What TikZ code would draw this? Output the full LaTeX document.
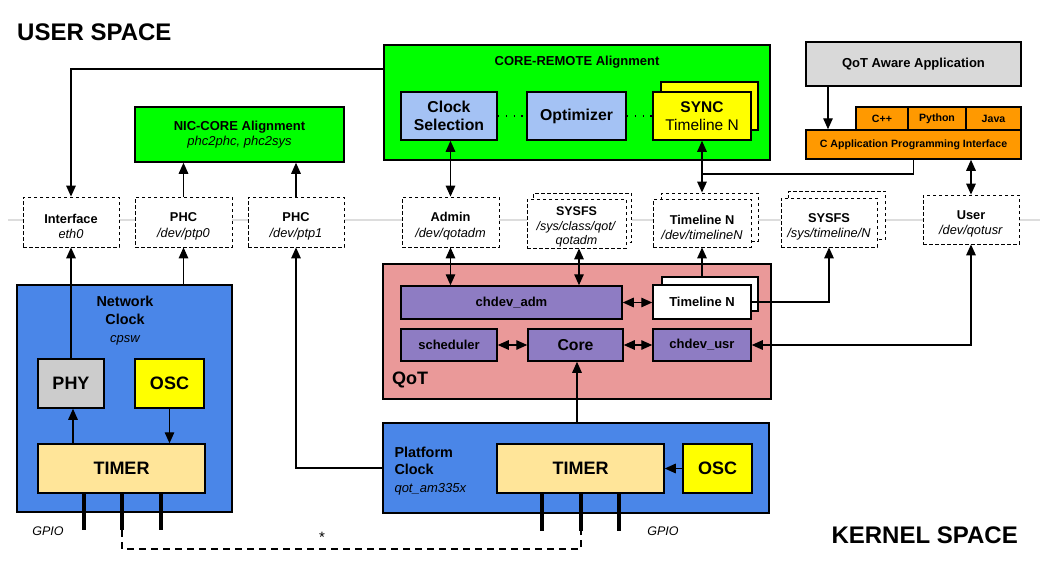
\documentclass[tikz,border=0pt]{standalone}
\usepackage{fontspec}
\setmainfont{Liberation Sans}
\usetikzlibrary{arrows.meta}
\definecolor{cgreen}{HTML}{00FF00}
\definecolor{clblue}{HTML}{A4C2F4}
\definecolor{cyell}{HTML}{FFFF00}
\definecolor{cpink}{HTML}{EA9999}
\definecolor{cpurp}{HTML}{8E7CC3}
\definecolor{cblue}{HTML}{4A86E8}
\definecolor{cgrayA}{HTML}{D9D9D9}
\definecolor{cgrayB}{HTML}{CCCCCC}
\definecolor{corange}{HTML}{FF9900}
\definecolor{ctimer}{HTML}{FFE599}
\definecolor{cline}{HTML}{DDDDDD}
\newcommand\dstrut{\rule{0pt}{18pt}}
\begin{document}
\begin{tikzpicture}[x=1pt,y=-1pt,
  box/.style={draw=black, line width=1.5pt, inner sep=0pt, align=center, font=\fontsize{13}{15.5}\selectfont\bfseries},
  dbox/.style={draw=black, fill=white, line width=0.8pt, dash pattern=on 3.5pt off 2.5pt, inner sep=0pt, align=center, font=\fontsize{12.8}{15.5}\selectfont},
  conn/.style={line width=1.4pt},
  arr/.style={conn, -{Triangle[length=11pt,width=9.5pt]}},
  darr/.style={conn, {Triangle[length=11pt,width=9.5pt]}-{Triangle[length=11pt,width=9.5pt]}},
  pin/.style={line width=3.5pt},
  big/.style={font=\fontsize{18}{20}\selectfont\bfseries},
  mid/.style={font=\fontsize{15.8}{18}\selectfont\bfseries},
  small/.style={font=\fontsize{10.6}{12}\selectfont\bfseries},
  ital/.style={font=\fontsize{12.5}{15}\selectfont\itshape},
  dotline/.style={line width=1.4pt, dash pattern=on 1.4pt off 6.5pt}
]
\useasboundingbox (0,0) rectangle (1047,565);
\fill[white] (0,0) rectangle (1047,565);

% separator line
\draw[cline, line width=1.8pt] (8,220) -- (1040,220);

% titles
\node[anchor=west, font=\fontsize{24}{26}\selectfont\bfseries, inner sep=0pt] (us) at (17,32) {USER SPACE};
\node[anchor=east, font=\fontsize{24}{26}\selectfont\bfseries, inner sep=0pt] (ks) at (1018,535) {KERNEL SPACE};

% CORE-REMOTE alignment
\node[box, fill=cgreen, minimum width=386pt, minimum height=115pt] (coreremote) at (577,102.5) {};
\node[font=\fontsize{13}{15}\selectfont\bfseries] (crtitle) at (577,62) {CORE-REMOTE Alignment};
\node[box, fill=clblue, minimum width=96pt, minimum height=48pt, mid] (clocksel) at (449,116) {Clock\\Selection};
\node[box, fill=clblue, minimum width=99pt, minimum height=48pt, mid] (optim) at (576.5,116) {Optimizer};
\node[box, fill=cyell, minimum width=97pt, minimum height=48pt] (syncb) at (709.5,106) {};
\node[box, fill=cyell, minimum width=98pt, minimum height=48pt, font=\fontsize{15.5}{18}\selectfont] (sync) at (702,116) {\textbf{SYNC}\\Timeline N};
\draw[dotline] (clocksel.east) -- (optim.west);
\draw[dotline] (optim.east) -- (sync.west);

% NIC-CORE
\node[box, fill=cgreen, minimum width=209pt, minimum height=55pt] (nic) at (239.5,134.5) {NIC-CORE Alignment\\{\mdseries\itshape phc2phc, phc2sys}};

% QoT aware application + API
\node[box, fill=cgrayA, minimum width=215pt, minimum height=44pt] (app) at (913.5,64) {QoT Aware Application};
\node[box, fill=corange, minimum width=52pt, minimum height=23pt, small] (cpp) at (882,118.5) {C++};
\node[box, fill=corange, minimum width=58pt, minimum height=23pt, small] (python) at (937,118.5) {Python};
\node[box, fill=corange, minimum width=55pt, minimum height=23pt, small] (java) at (993.5,118.5) {Java};
\node[box, fill=corange, minimum width=215pt, minimum height=29pt, small] (capi) at (913.5,144.5) {C Application Programming Interface};

% dashed interface row
\node[dbox, minimum width=96pt, minimum height=50pt] (iface) at (71,222) {\dstrut\textbf{Interface}\\\textit{eth0}};
\node[dbox, minimum width=97pt, minimum height=50pt] (phc0) at (183.5,222) {\dstrut\textbf{PHC}\\\textit{/dev/ptp0}};
\node[dbox, minimum width=96pt, minimum height=50pt] (phc1) at (296,222) {\dstrut\textbf{PHC}\\\textit{/dev/ptp1}};
\node[dbox, minimum width=97pt, minimum height=50pt] (admin) at (450.5,222) {\dstrut\textbf{Admin}\\\textit{/dev/qotadm}};
\node[dbox, minimum width=98pt, minimum height=49pt] (sysfs1b) at (582.5,217.5) {};
\node[dbox, minimum width=99pt, minimum height=49pt, font=\fontsize{12.5}{14.5}\selectfont] (sysfs1) at (576.5,223.5) {\rule{0pt}{16pt}\textbf{SYSFS}\\\textit{/sys/class/qot/}\\\textit{qotadm}};
\node[dbox, minimum width=97pt, minimum height=48pt] (tldevb) at (709.5,217) {};
\node[dbox, minimum width=98pt, minimum height=48pt] (tldev) at (702,223) {\dstrut\textbf{Timeline N}\\\textit{/dev/timelineN}};
\node[dbox, minimum width=97pt, minimum height=48pt] (sysfs2b) at (837,215) {};
\node[dbox, minimum width=96pt, minimum height=49pt] (sysfs2) at (829,222.5) {\dstrut\textbf{SYSFS}\\\textit{/sys/timeline/N}};
\node[dbox, minimum width=96pt, minimum height=49pt] (user) at (971,219.5) {\dstrut\textbf{User}\\\textit{/dev/qotusr}};

% QoT kernel module
\node[box, fill=cpink, minimum width=388pt, minimum height=135pt] (qot) at (577,331.5) {};
\node[anchor=west, big, inner sep=0pt] (qotlbl) at (392,380) {QoT};
\node[box, fill=cpurp, minimum width=221pt, minimum height=33pt] (chadm) at (511.5,302.5) {chdev\_adm};
\node[box, fill=white, minimum width=96pt, minimum height=34pt] (tlkb) at (710,294) {};
\node[box, fill=white, minimum width=98pt, minimum height=34pt] (tlk) at (702,302) {Timeline N};
\node[box, fill=cpurp, minimum width=96pt, minimum height=32pt] (sched) at (449,345) {scheduler};
\node[box, fill=cpurp, minimum width=95pt, minimum height=32pt, mid] (core) at (575.5,345) {Core};
\node[box, fill=cpurp, minimum width=98pt, minimum height=32pt] (chusr) at (702,345) {chdev\_usr};

% Network clock
\node[box, fill=cblue, minimum width=215pt, minimum height=227pt] (netclk) at (124.5,398.5) {};
\node[align=center, font=\fontsize{14.4}{18}\selectfont\bfseries] (nctitle) at (125,321) {Network\\Clock\\{\mdseries\itshape\fontsize{13}{18}\selectfont cpsw}};
\node[box, fill=cgrayB, minimum width=66pt, minimum height=49pt, big] (phy) at (71,383.5) {PHY};
\node[box, fill=cyell, minimum width=69pt, minimum height=49pt, big] (osc1) at (169.5,383.5) {OSC};
\node[box, fill=ctimer, minimum width=167pt, minimum height=49pt, big] (timer1) at (121.5,468.5) {TIMER};

% Platform clock
\node[box, fill=cblue, minimum width=386pt, minimum height=90pt] (platclk) at (576,468) {};
\node[anchor=west, align=left, font=\fontsize{14.4}{17.5}\selectfont\bfseries] (pctitle) at (391,471) {Platform\\Clock\\{\mdseries\itshape\fontsize{13}{17.5}\selectfont qot\_am335x}};
\node[box, fill=ctimer, minimum width=167pt, minimum height=49pt, big] (timer2) at (580.5,468.5) {TIMER};
\node[box, fill=cyell, minimum width=69pt, minimum height=49pt, big] (osc2) at (717.5,468.5) {OSC};

% GPIO labels
\node[ital] (gpio1) at (48,531) {GPIO};
\node[ital] (gpio2) at (663,531) {GPIO};
\node[font=\fontsize{15}{16}\selectfont] (star) at (322,537) {*};

% ---------- connectors ----------
\coordinate (crl) at (coreremote.west |- 0,69);
\draw[arr] (crl) -| (iface.north);
\draw[arr] (phc0.north) -- (phc0.north |- nic.south);
\draw[arr] (phc1.north) -- (phc1.north |- nic.south);
\draw[arr] (phc0.south |- netclk.north) -- (phc0.south);
\draw[arr] (phy.north) -- (iface.south);
\draw[arr] (platclk.west) -| (phc1.south);

\draw[darr] (admin.north) -- (admin.north |- clocksel.south);
\draw[darr] (admin.south) -- (admin.south |- chadm.north);
\draw[darr] ([xshift=2.5pt]sysfs1.south) -- ([xshift=2.5pt]sysfs1.south |- chadm.north);
\draw[darr] (sync.south) -- (sync.south |- tldevb.north);
\coordinate (junc) at (sync.south |- 0,174);
\draw[conn] (capi.south) |- (junc);
\draw[darr] (user.north) -- (user.north |- capi.south);
\draw[arr] ([xshift=-85.5pt]app.south) -- ([xshift=-85.5pt]capi.north);

\draw[arr] (tlk.north |- tlkb.north) -- (tldev.south);
\draw[arr] (tlk.east) -| (sysfs2.south);
\draw[darr] (chadm.east) -- (tlk.west |- chadm.east);
\draw[darr] (sched.east) -- (core.west);
\draw[darr] (core.east) -- (chusr.west);
\draw[darr] (user.south) |- (chusr.east);
\draw[arr] ([xshift=1.5pt]core.south |- platclk.north) -- ([xshift=1.5pt]core.south);

\draw[arr] ([xshift=2pt]phy.south |- timer1.north) -- ([xshift=2pt]phy.south);
\draw[arr] (osc1.south) -- (osc1.south |- timer1.north);
\draw[arr] (osc2.west) -- (timer2.east);

% GPIO pins
\coordinate (p1a) at (84,530);
\coordinate (p1b) at (122,530);
\coordinate (p1c) at (161,530);
\coordinate (p2a) at (542,531);
\coordinate (p2b) at (581,531);
\coordinate (p2c) at (619,531);
\foreach \p in {p1a,p1b,p1c} \draw[pin] (timer1.south -| \p) -- (\p);
\foreach \p in {p2a,p2b,p2c} \draw[pin] (timer2.south -| \p) -- (\p);
\draw[line width=1.2pt, dash pattern=on 7pt off 5pt] (p1b) -- (122,549) -- (581,549) -- (p2b);
\end{tikzpicture}
\end{document}
